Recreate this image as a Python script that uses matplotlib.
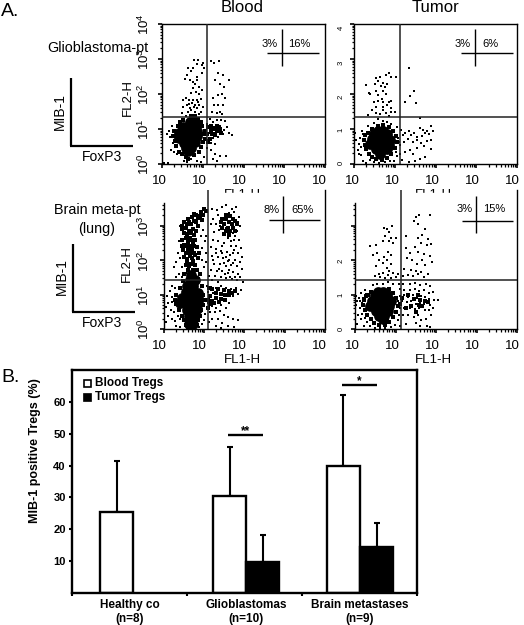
import matplotlib
matplotlib.use('Agg')
import matplotlib.pyplot as plt
from matplotlib.lines import Line2D
from matplotlib.patches import Rectangle
import numpy as np

plt.rcParams['font.family'] = ['Liberation Sans', 'DejaVu Sans']
plt.rcParams['mathtext.fontset'] = 'custom'
plt.rcParams['mathtext.rm'] = 'Liberation Sans'

W, H = 524, 625

# flow panels: values are log10 of FL1-H, FL2-H
gbm_blood_dots = [
    (.79,2.97),(.89,2.97),(1.01,2.9),(.65,2.75),(.85,2.85),(.97,2.83),(.77,2.75),(1.03,2.75),(.72,2.65),(.99,2.59),
    (.61,2.55),(.87,2.5),(.69,2.4),(.77,2.35),(.85,2.4),(.57,2.42),(.81,2.28),(.91,2.21),(.75,2.16),(.97,2.12),
    (.83,2.07),(.71,2.02),(.91,2.0),(.6,1.9),(.52,1.83),(.67,1.83),(.77,1.83),(.87,1.83),(.95,1.85),(.73,1.73),
    (.81,1.68),(.62,1.68),(.91,1.68),(.52,1.62),(.69,1.59),(.85,1.59),(1.01,1.64),(.5,1.45),(.64,1.5),(.81,1.5),
    (.95,1.5),(.75,1.4),(.58,1.38),(.9,1.42),(.7,1.55),(.78,1.62),(.88,1.78),(.66,1.72),
    (1.2,2.95),(1.28,2.9),(1.4,2.95),(1.38,2.6),(1.5,2.55),(1.64,2.4),(1.42,2.3),(1.52,2.2),(1.3,2.4),
    (1.25,1.9),(1.38,1.98),(1.48,2.0),(1.55,1.9),(1.27,1.7),(1.38,1.7),(1.5,1.7),(1.22,1.5),(1.34,1.45),(1.42,1.5),(1.48,1.42),
    (1.1,1.15),(1.18,1.28),(1.25,1.2),(1.35,1.25),(1.45,1.25),(1.55,1.22),(1.6,1.05),(1.52,.98),(1.65,.9),(1.72,.82),
    (1.42,1.1),(1.35,1.0),(1.28,1.05),(1.2,1.0),(1.15,.88),(1.3,.9),(1.42,.92),(1.5,.85),(1.38,.78),(1.25,.75),
    (1.12,.7),(1.2,.6),(1.3,.58),(1.1,.45),(1.2,.4),(1.3,.3),(1.42,.24),(1.58,.22),(1.25,.15),(1.35,.08),
    (.25,1.1),(.18,.95),(.12,.85),(.2,.78),(.28,.6),(.22,.4),(.3,.35),(.38,.28),(.05,.02),(.15,.02),(.55,.1),(.62,.05),(.7,.15),(.85,.08),(.95,.05),(1.02,.2),
]
gbm_blood_clump = [
    (.98,1.1),(1.05,.95),(1.12,1.05),(1.1,.85),(1.2,.95),(1.28,1.0),(1.22,.85),(1.35,.95),(1.42,1.0),(1.3,.82),(1.45,.88),(1.18,.72),
    (1.12,.62),(1.05,.72),(1.2,1.08),(1.35,1.1),(.72,1.38),(.82,1.36),(.88,1.28),(.3,.95),(.28,.8),(.32,.65),(.35,.52),(.42,.35),
    (.5,.28),(.58,.2),(.65,.15),(.78,.25),(.9,.35),(.95,.5),(1.0,.62),(1.02,.85),(.95,1.2),(.4,1.1),(.45,1.2),(.52,1.25),
]
gbm_blood_blob = [
    (.45,.9),(.6,.9),(.75,.9),(.85,.95),(.42,.75),(.58,.75),(.72,.75),(.85,.8),(.52,1.05),(.68,1.05),(.82,1.1),
    (.55,.6),(.7,.6),(.82,.62),(.58,.47),(.7,.45),(.65,.38),(.68,1.2),(.8,1.2),(.42,.9),
]
gbm_tumor_dots = [
    (1.34,2.73),(.85,2.6),(.92,2.5),(1.02,2.48),(.78,2.55),(.65,2.48),(.55,2.45),(.59,2.38),(.7,2.32),(.82,2.3),(.75,2.2),
    (.29,2.25),(.52,2.28),(.66,2.22),(.38,2.04),(.4,2.0),(.55,2.1),(.72,2.08),(.78,2.0),(.6,1.96),(.5,1.78),(.58,1.8),
    (.68,1.85),(.72,1.78),(.85,1.78),(.9,1.8),(.82,1.7),(.45,1.55),(.55,1.62),(.7,1.62),(.72,1.55),(.9,1.6),(.55,1.45),
    (.65,1.42),(.78,1.45),(.35,1.4),(.85,1.38),(1.0,1.48),(.9,1.5),(1.25,1.78),(1.38,1.95),(1.48,2.1),(1.52,1.75),(1.62,1.32),
    (.6,1.28),(.7,1.22),(.8,1.2),(.5,1.18),(.92,1.15),(.35,1.1),(1.05,1.05),(1.15,.98),(1.2,.82),(1.25,.9),(1.35,.95),
    (1.4,.82),(1.48,.9),(1.55,.78),(1.62,1.02),(1.7,.98),(1.75,.88),(1.68,.8),(1.8,.95),(1.85,.85),(1.55,.68),(1.45,.62),
    (1.32,.72),(1.22,.62),(1.12,.55),(1.9,.7),(1.78,.65),(1.65,.6),(1.72,.52),(1.95,.95),(1.88,1.1),(1.55,.45),(1.38,.4),
    (1.25,.35),(1.12,.3),(1.45,.28),(1.62,.15),(1.75,.2),(1.5,.1),(1.35,.05),(1.18,.12),(1.9,.42),(.02,.9),(.05,.7),(.12,.58),
    (.1,.4),(.18,.25),(.22,.1),(.3,.04),(.4,.12),(.5,.05),(.62,.03),(.75,.05),(.88,.08),(.98,.1),(1.05,.22),(.2,.95),(.15,.75),
    (.22,.85),(.18,.5),(.12,.3),(1.08,.75),(1.1,.62),(1.02,.35),
]
gbm_tumor_clump = [
    (.25,.7),(.28,.55),(.3,.42),(.38,.3),(.45,.2),(.55,.15),(.68,.12),(.8,.18),(.92,.3),(1.0,.45),(1.05,.62),(1.02,.8),(.95,.95),
    (.85,1.05),(.72,1.12),(.58,1.1),(.45,1.0),(.35,.9),(.28,.82),
]
gbm_tumor_blob = [
    (.45,.72),(.6,.72),(.75,.72),(.88,.7),(.4,.58),(.55,.58),(.7,.58),(.85,.55),(.5,.85),(.65,.87),(.8,.85),(.55,.43),
    (.7,.42),(.82,.42),(.65,.3),(.72,.95),(.6,.95),
]
meta_blood_dots = [
    (1.2,3.5),(1.32,3.45),(1.45,3.55),(1.55,3.6),(1.7,3.5),(1.8,3.55),(1.62,3.38),(1.75,3.4),(1.88,3.25),(1.35,3.3),(1.22,3.2),(1.18,3.05),
    (1.3,3.05),(1.42,3.15),(1.9,3.0),(1.82,2.85),(1.72,2.78),(1.25,2.82),(1.38,2.88),(1.48,2.75),(1.6,2.65),(1.75,2.6),(1.88,2.6),(1.22,2.6),
    (1.35,2.55),(1.5,2.5),(1.68,2.4),(1.8,2.42),(1.92,2.35),(1.18,2.38),(1.3,2.32),(1.42,2.28),(1.58,2.25),(1.72,2.2),(1.85,2.22),(1.95,2.1),
    (1.2,2.12),(1.35,2.08),(1.48,2.05),(1.62,2.02),(1.78,2.0),(1.9,1.95),(1.25,1.9),(1.4,1.88),(1.55,1.82),(1.68,1.85),(1.82,1.82),(1.95,1.75),
    (1.18,1.72),(1.32,1.7),(1.45,1.68),(1.6,1.62),(1.72,1.65),(1.85,1.6),(1.28,1.55),(1.42,1.5),(1.55,1.48),(1.7,1.45),(1.82,1.42),(1.98,1.38),
    (1.2,1.42),(1.35,1.38),(1.12,1.55),(1.62,1.72),(1.5,1.92),(1.65,2.15),(1.45,2.42),(1.78,2.7),(1.55,2.95),(1.4,3.0),(1.85,3.1),(1.3,2.2),
    (1.55,2.1),(1.75,2.3),(1.38,1.75),(1.52,1.6),(1.65,1.52),(1.78,1.52),(1.9,1.5),(1.22,2.0),(1.6,1.98),(1.72,1.92),(1.45,2.2),(1.68,2.55),
    (1.08,1.25),(1.18,1.22),(1.3,1.2),(1.42,1.25),(1.55,1.2),(1.68,1.15),(1.8,1.2),(1.92,1.12),(1.1,1.08),(1.22,1.05),(1.85,1.02),(1.72,.95),
    (1.1,.75),(1.2,.68),(1.3,.62),(1.42,.7),(1.55,.62),(1.62,.75),(1.15,.5),(1.28,.48),(1.4,.52),(1.5,.42),(1.6,.35),(1.72,.3),(1.2,.3),(1.35,.28),
    (1.45,.18),(1.6,.08),(1.75,.05),(1.3,.1),(1.12,.2),(1.42,.02),(1.85,.25),
    (.42,3.0),(.38,2.55),(.35,2.2),(.3,1.95),(.25,1.8),(.4,2.05),(.45,1.8),(.38,1.6),(.32,1.5),(.45,1.5),(.55,1.62),(.95,2.0),(1.0,1.8),(1.05,1.95),
    (.95,2.35),(1.05,2.2),(1.02,2.55),(.92,2.7),(1.05,2.7),(.98,2.88),
    (.08,.95),(.15,1.1),(.2,1.25),(.28,1.2),(.12,.75),(.05,.65),(.18,.55),(.25,.48),(.1,.38),(.2,.3),(.28,.22),(.06,.2),(.32,.1),(.4,.05),(.02,1.0),
    (.3,1.02),(.22,.92),(.2,.78),(.35,.38),(.42,.28),(1.0,.25),(.95,.15),(.88,.06),(1.02,.45),
]
# thick clumps, drawn with a smaller spot than the blobs
meta_blood_clump = [
    (.5,3.1),(.6,3.2),(.7,3.25),(.8,3.3),(.92,3.4),(.55,2.95),(.68,3.05),(.8,3.1),(.95,3.18),(.5,2.8),(.62,2.85),(.72,2.9),
    (.55,2.65),(.65,2.65),(.75,2.72),(.5,2.45),(.6,2.5),(.72,2.5),(.48,2.3),(.6,2.3),(.7,2.3),(.82,2.38),(.52,2.1),(.65,2.12),
    (.78,2.15),(.58,1.95),(.72,1.98),(.62,1.82),(1.55,3.2),(1.62,3.1),(1.7,3.05),(1.5,3.05),(1.6,2.95),(1.72,3.2),(1.65,2.85),
    (1.3,1.05),(1.42,1.02),(1.52,1.0),(1.62,.98),(1.3,.9),(1.42,.88),(1.52,.85),(1.15,.95),(1.2,.82),
    (.45,3.0),(.58,3.05),(.63,3.12),(.75,3.15),(.85,3.22),(.9,3.28),(.75,3.35),(1.0,3.5),(1.05,3.42),(.98,3.3),(.45,2.9),(.58,2.75),
    (.68,2.78),(.8,2.85),(.85,3.0),(.47,2.6),(.6,2.58),(.7,2.6),(.78,2.6),(.45,2.4),(.55,2.4),(.65,2.42),(.76,2.42),(.55,2.22),
    (.65,2.22),(.75,2.22),(.88,2.22),(.58,2.03),(.7,2.05),(.85,2.05),(.55,1.85),(.68,1.9),(.78,1.85),(.6,1.72),(.72,1.72),(.82,1.72),
    (.9,1.6),(.5,1.6),(.85,1.45),(.48,1.4),(.4,1.2),(.95,1.25),(.3,1.0),(.28,.85),(.3,.72),(.38,.55),(.98,1.0),(1.0,.85),(.98,.7),
    (.92,.55),(.9,.38),(.45,.38),(.52,.25),(.85,.25),(.55,.12),(.82,.12),(.6,.03),(.75,.03),
    (1.45,3.2),(1.55,3.3),(1.65,3.28),(1.78,3.15),(1.82,3.05),(1.45,2.95),(1.55,2.85),(1.72,2.95),(1.78,2.85),(1.5,2.75),(1.62,2.72),(1.42,3.1),
    (1.12,1.2),(1.2,1.15),(1.35,1.15),(1.5,1.12),(1.62,1.1),(1.1,.85),(1.15,.72),(1.25,.75),(1.38,.78),(1.1,.6),(1.7,1.05),(1.78,1.1),
]
meta_blood_blob = [
    (.45,.9),(.6,.9),(.75,.9),(.85,.9),(.42,.75),(.55,.72),(.7,.72),(.85,.75),(.55,1.08),(.7,1.08),(.85,1.05),(.58,1.25),(.72,1.25),
    (.65,1.42),(.78,1.42),(.68,1.58),(.58,.55),(.7,.55),(.82,.58),(.62,.38),(.72,.38),(.65,.22),(.72,.15),(.62,.15),
]
meta_tumor_dots = [
    (1.5,3.25),(1.58,3.3),(1.85,3.3),(1.45,3.15),(1.55,3.05),(.72,2.95),(.8,2.9),(.85,2.82),(.92,3.0),(.75,2.7),(.88,2.65),(1.25,2.7),(.85,2.55),
    (.7,2.55),(.95,2.5),(1.02,2.65),(1.72,2.9),(1.65,2.72),(1.8,2.62),(1.55,2.65),(1.62,2.5),(1.78,2.45),(1.88,2.48),(.38,2.4),(.45,2.15),(.52,2.45),
    (.55,2.2),(.6,2.02),(.72,2.1),(.82,2.25),(.9,2.15),(.8,2.0),(.68,1.92),(.52,1.82),(.9,1.88),(.78,1.78),(.85,1.7),(1.25,2.35),(1.35,2.2),(1.48,2.38),
    (1.55,2.25),(1.7,2.18),(1.85,2.12),(1.9,1.95),(1.28,2.05),(1.4,2.0),(1.52,1.88),(1.65,2.02),(1.72,1.85),(1.22,1.75),(1.38,1.72),(1.5,1.7),(1.62,1.65),
    (.6,1.6),(.7,1.62),(.82,1.58),(.95,1.62),(1.05,1.6),(.5,1.55),(.62,1.5),(.75,1.48),(.88,1.48),(1.0,1.52),(1.18,1.55),(1.3,1.58),(1.42,1.55),(1.55,1.6),
    (1.7,1.52),(1.8,1.6),(.45,1.28),(.55,1.32),(.68,1.3),(.82,1.38),(.95,1.32),(1.08,1.3),(1.18,1.3),(1.35,1.3),(1.48,1.35),(1.6,1.28),(1.75,1.3),(1.85,1.25),
    (1.12,1.15),(1.22,1.12),(1.35,1.12),(1.48,1.15),(1.58,1.1),(1.7,1.12),(1.82,1.05),(1.92,1.08),(1.1,.95),(1.2,.98),(1.3,.92),(1.42,.98),(1.52,.9),(1.62,.95),
    (1.72,.92),(1.82,.88),(1.95,.85),(1.15,.8),(1.28,.78),(1.38,.82),(1.5,.72),(1.6,.78),(1.7,.72),(1.85,.7),(1.92,.62),(1.12,.6),(1.22,.62),(1.35,.6),(1.48,.58),
    (1.58,.6),(1.72,.55),(1.82,.55),(2.05,.85),(1.18,.42),(1.3,.4),(1.45,.35),(1.55,.42),(1.62,.25),(1.75,.3),(1.88,.42),(1.5,.18),(1.6,.1),(1.78,.08),(1.85,.05),(1.25,.15),(1.12,.08),
    (.02,.95),(.06,.8),(.02,.7),(.1,.9),(.15,1.05),(.25,1.12),(.12,.62),(.18,.45),(.08,.42),(.25,.32),(.15,.28),(.3,.2),(.22,.1),(.05,.15),(.38,.08),(.5,.03),(.62,.02),
    (.75,.03),(.88,.05),(.98,.12),(1.05,.25),(1.08,.4),(1.05,.8),(.28,1.02),(.2,.9),(.18,.75),(.12,.8),
]
meta_tumor_clump = [
    (1.15,.9),(1.3,1.0),(1.45,.88),(1.6,.85),(1.72,.82),(1.55,1.0),(1.38,.68),(1.65,.68),(1.8,.78),(1.25,.62),(1.1,.72),(1.5,.5),(1.58,.7),
    (.22,.85),(.2,.7),(.25,.55),(.3,.4),(.4,.28),(.48,.18),(.6,.12),(.75,.12),(.85,.2),(.95,.35),(1.02,.5),(1.05,.68),(1.02,.9),(.95,1.05),
    (.85,1.15),(.4,1.08),(.32,1.0),(.28,.95),
]
meta_tumor_blob = [
    (.42,.82),(.58,.82),(.72,.82),(.88,.82),(.38,.68),(.52,.68),(.68,.68),(.85,.68),(.5,.98),(.65,1.0),(.8,1.0),
    (.52,.52),(.68,.52),(.82,.52),(.6,.38),(.72,.38),(.68,.28),(.7,1.08),(.58,1.08),
]

fl1_gate = [1.11, 1.13, 1.1, 1.13]
fl2_gate = [1.35, 1.35, 1.42, 1.42]

# bar chart
group_labels = ['Healthy co\n(n=8)', 'Glioblastomas\n(n=10)', 'Brain metastases\n(n=9)']
blood_means = [25.5, 30.5, 40.0]
blood_err = [16.0, 15.5, 22.3]
tumor_means = [9.7, 14.5]
tumor_err = [8.3, 7.5]
bar_yticks = [10, 20, 30, 40, 50, 60]


def fx(px):
    return px / W


def fy(py):
    return 1 - py / H


fig = plt.figure(figsize=(W / 100, H / 100), dpi=100, facecolor='white')


def ftext(px, py, s, **kw):
    kw.setdefault('ha', 'center')
    kw.setdefault('va', 'center')
    kw.setdefault('color', 'black')
    return fig.text(fx(px), fy(py), s, **kw)


def fline(xs, ys, lw=1.0, zorder=10):
    fig.add_artist(Line2D([fx(v) for v in xs], [fy(v) for v in ys], color='black', lw=lw, zorder=zorder, solid_capstyle='butt'))


def flow_panel(left, right, top, bottom, ymax, dots, blob, clump, gate_x, gate_y, open_top=False, spine_top=4.0):
    ax = fig.add_axes([fx(left), fy(bottom), fx(right - left), (bottom - top) / H])
    ax.set_xlim(0, 4)
    ax.set_ylim(0, ymax)
    d = np.array(dots)
    ax.scatter(d[:, 0], d[:, 1], s=1.3, marker='s', c='black', linewidths=0, zorder=2)
    b = np.array(blob)
    ax.scatter(b[:, 0], b[:, 1], s=60, marker='o', c='black', linewidths=0, zorder=2)
    c = np.array(clump)
    ax.scatter(c[:, 0], c[:, 1], s=6, marker='s', c='black', linewidths=0, zorder=2)
    ax.axvline(gate_x, color='#222222', lw=1.1, zorder=3)
    ax.axhline(gate_y, color='#222222', lw=1.1, zorder=3)
    minors = [dec + np.log10(m) for dec in range(4) for m in range(2, 10)]
    ax.set_xticks(range(5))
    ax.set_xticks(minors, minor=True)
    ax.set_yticks([v for v in range(5) if v <= spine_top])
    ax.set_yticks([v for v in minors if v <= spine_top], minor=True)
    ax.tick_params(which='major', length=3.2, width=1.2, labelbottom=False, labelleft=False)
    ax.tick_params(which='minor', length=1.8, width=0.9)
    for s in ax.spines.values():
        s.set_linewidth(1.0)
    if open_top:
        ax.spines['top'].set_visible(False)
        ax.spines['left'].set_bounds(0, spine_top)
    return ax


# upper panels
flow_panel(162, 325, 24, 164, 4.0, gbm_blood_dots, gbm_blood_blob, gbm_blood_clump, fl1_gate[0], fl2_gate[0])
flow_panel(354, 517, 24, 164, 4.0, gbm_tumor_dots, gbm_tumor_blob, gbm_tumor_clump, fl1_gate[1], fl2_gate[1])

# the FL1-H of the upper row is cut by the lower panels
ftext(242, 195, 'FL1-H', fontsize=9.5, zorder=1)
ftext(433, 195, 'FL1-H', fontsize=9.5, zorder=1)
fig.add_artist(Rectangle((0, fy(369)), 1, fy(193) - fy(369), transform=fig.transFigure, color='white', zorder=1.5))

# lower panels
for a in [
    flow_panel(163.5, 325, 190, 329, 4.04, meta_blood_dots, meta_blood_blob, meta_blood_clump, fl1_gate[2], fl2_gate[2], open_top=True, spine_top=3.65),
    flow_panel(355, 517, 190, 329, 4.04, meta_tumor_dots, meta_tumor_blob, meta_tumor_clump, fl1_gate[3], fl2_gate[3], open_top=True, spine_top=3.65),
]:
    a.patch.set_alpha(0)
    a.set_zorder(2)

# x tick labels, the exponents are lost in the original
for label_y in (181, 346):
    for lx in (159, 199, 239, 279, 319, 352, 392, 432, 472, 512):
        ftext(lx, label_y, '10', fontsize=9.5)

# y tick labels of the left column
for dec, py in zip(range(5), (164, 129, 94, 59, 24)):
    ftext(144, py, '$\\mathrm{10^{%d}}$' % dec, fontsize=9.5, rotation=90)
for dec, py in zip(range(4), (329, 295, 261, 226)):
    ftext(144, py, '$\\mathrm{10^{%d}}$' % dec, fontsize=9.5, rotation=90)
# right column only keeps bits of the exponents
for dec, py in zip(range(5), (163, 130, 97, 63, 28)):
    ftext(341, py, str(dec), fontsize=5.5, rotation=90)
for dec, py in zip(range(3), (329, 295, 261)):
    ftext(341, py, str(dec), fontsize=5.5, rotation=90)

ftext(128, 97, 'FL2-H', fontsize=9.5, rotation=90)
ftext(127, 263, 'FL2-H', fontsize=9.5, rotation=90)
ftext(242, 360, 'FL1-H', fontsize=9.5)
ftext(433, 360, 'FL1-H', fontsize=9.5)

ftext(242, 7, 'Blood', fontsize=12)
ftext(435, 7, 'Tumor', fontsize=12)
ftext(1, 11, 'A.', fontsize=14, ha='left')
ftext(1, 378, 'B.', fontsize=14, ha='left')

ftext(98, 48, 'Glioblastoma-pt', fontsize=10.4)
ftext(97, 210, 'Brain meta-pt', fontsize=10.4)
ftext(97, 229, '(lung)', fontsize=10.4)

# MIB-1 / FoxP3 corners
fline([71, 71], [78, 146], lw=1.6)
fline([70, 133], [146, 146], lw=1.6)
fline([72.5, 72.5], [244, 312], lw=1.6)
fline([71.5, 135], [312, 312], lw=1.6)
ftext(60, 112, 'MIB-1', fontsize=10, rotation=90)
ftext(102, 157, 'FoxP3', fontsize=10)
ftext(62, 277, 'MIB-1', fontsize=10, rotation=90)
ftext(102, 323, 'FoxP3', fontsize=10)

# quadrant percentages
quads = [
    (282, 267, 319, 29, 66, 53, 270, 299, 44, '3%', '16%'),
    (475, 461, 513, 29, 66, 53, 463, 490, 44, '3%', '6%'),
    (283, 269, 320, 196, 233, 220, 272, 302, 210, '8%', '65%'),
    (476, 462, 513, 196, 233, 221, 465, 494, 209, '3%', '15%'),
]
for vx, hx0, hx1, vy0, vy1, hy, tx0, tx1, ty, s0, s1 in quads:
    fline([vx, vx], [vy0, vy1], lw=1.0)
    fline([hx0, hx1], [hy, hy], lw=1.0)
    ftext(tx0, ty, s0, fontsize=8, zorder=11)
    ftext(tx1, ty, s1, fontsize=8, zorder=11)

# panel B
ax = fig.add_axes([fx(72), fy(592.5), fx(417 - 72), (592.5 - 370) / H])
ax.set_zorder(3)
ax.set_xlim(0, 3)
ax.set_ylim(0, 70.2)
bar_w = 0.287
blood_x = [0.387, 1.37, 2.36]
tumor_x = [1.657, 2.648]
ax.bar(blood_x, blood_means, bar_w, color='white', edgecolor='black', linewidth=1.7, zorder=2)
ax.bar(tumor_x, tumor_means, bar_w, color='black', edgecolor='black', linewidth=1.7, zorder=2)
ax.errorbar(blood_x, blood_means, yerr=[[0] * 3, blood_err], fmt='none', ecolor='black', elinewidth=1.5, capsize=2.4, capthick=1.5, zorder=1)
ax.errorbar(tumor_x, tumor_means, yerr=[[0] * 2, tumor_err], fmt='none', ecolor='black', elinewidth=1.5, capsize=2.4, capthick=1.5, zorder=1)
ax.plot([1.356, 1.66], [49.7, 49.7], color='black', lw=1.7, solid_capstyle='butt')
ax.plot([2.348, 2.652], [65.5, 65.5], color='black', lw=1.7, solid_capstyle='butt')
ax.text(1.508, 51.0, '**', ha='center', va='center', fontsize=8.5, fontweight='bold')
ax.text(2.5, 66.8, '*', ha='center', va='center', fontsize=8.5, fontweight='bold')
ax.set_xticks([0, 1, 2, 3])
ax.set_xticklabels([])
ax.set_yticks(bar_yticks)
ax.set_yticklabels([str(v) for v in bar_yticks], fontsize=8, fontweight='bold')
ax.tick_params(axis='both', length=2, width=1.5, pad=2.5)
for s in ax.spines.values():
    s.set_linewidth(1.7)
ax.set_ylabel('MIB-1 positive Tregs (%)', fontsize=9, fontweight='bold')
ax.yaxis.set_label_coords(-0.09, 0.636)

for name, cx in zip(group_labels, (130, 246, 360)):
    top_line, n_line = name.split('\n')
    ftext(cx, 605, top_line, fontsize=8.5, fontweight='bold')
    ftext(cx, 619, n_line, fontsize=8.5, fontweight='bold')

# legend
fig.add_artist(Rectangle((fx(83.5), fy(386.5)), 7 / W, 7 / H, transform=fig.transFigure, facecolor='white', edgecolor='black', lw=1.2, zorder=12))
fig.add_artist(Rectangle((fx(83), fy(400.5)), 8 / W, 7.5 / H, transform=fig.transFigure, facecolor='black', edgecolor='black', lw=0.5, zorder=12))
ftext(95, 383, 'Blood Tregs', fontsize=8.5, fontweight='bold', ha='left', zorder=12)
ftext(95, 397, 'Tumor Tregs', fontsize=8.5, fontweight='bold', ha='left', zorder=12)

fig.savefig('out.png', dpi=100)
